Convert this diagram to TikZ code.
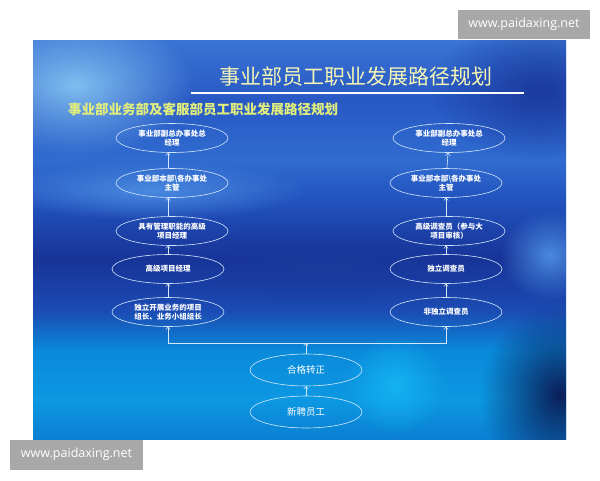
\documentclass[tikz,border=0pt]{standalone}
\usepackage{fontspec}
\setmainfont{Noto Sans CJK SC}
\newfontfamily\wmfont{Open Sans}
\usetikzlibrary{shapes.geometric,fadings,arrows.meta}

\definecolor{linecol}{HTML}{D4E8FA}
\definecolor{titlecol}{HTML}{F6F6B4}
\definecolor{subcol}{HTML}{E2EE7C}
\definecolor{wmgray}{HTML}{A8A8A8}
\definecolor{spotlight}{HTML}{80BEF0}
\definecolor{spotstreak}{HTML}{4A8AE0}
\definecolor{spotdark}{HTML}{0A1E58}
\definecolor{spotnavy}{HTML}{1A3A9E}
\definecolor{spotcyan}{HTML}{14B2F2}
\definecolor{bgA}{HTML}{0B7FD2}
\definecolor{bgB}{HTML}{0C98E2}
\definecolor{bgC}{HTML}{0A8ADA}
\definecolor{bgD}{HTML}{1B4CB4}
\definecolor{bgE}{HTML}{173398}
\definecolor{bgF}{HTML}{2252BE}
\definecolor{bgG}{HTML}{306CD0}
\definecolor{bgH}{HTML}{2858C4}
\definecolor{bgI}{HTML}{3A74D4}

% slide background, bottom to top
\pgfdeclareverticalshading{slidebg}{100bp}{%
  color(0bp)=(bgA); color(25bp)=(bgA);
  color(30bp)=(bgB); color(36bp)=(bgC);
  color(41bp)=(bgD); color(47.5bp)=(bgE);
  color(55bp)=(bgF); color(60bp)=(bgG);
  color(67.5bp)=(bgH); color(75bp)=(bgI);
  color(100bp)=(bgI)}
\tikzfading[name=softspot, inner color=transparent!0, outer color=transparent!100]

\begin{document}
\begin{tikzpicture}[x=1pt,y=-1pt,
  stage/.style={ellipse,draw=linecol,line width=0.6pt,minimum width=112pt,
    minimum height=29pt,inner sep=0pt,text=white,align=center,
    font=\bfseries\fontsize{7.5}{9.5}\selectfont},
  bigstage/.style={stage,minimum height=32pt,font=\fontsize{9.5}{11}\selectfont},
  link/.style={draw=linecol,line width=0.6pt,-{To[length=3pt,width=5pt]}},
  wmark/.style={fill=wmgray,text=white,inner sep=0pt,minimum width=132pt,
    minimum height=29pt,font=\wmfont\fontsize{12.5}{14}\selectfont}]
\useasboundingbox (0,0) rectangle (600,480);
\fill[white] (0,0) rectangle (600,480);
% Slide background
\begin{scope}
\clip (33,40) rectangle (566,439);
\shade[shading=slidebg] (33,40) rectangle (566,439);
\fill[spotlight,path fading=softspot] (75,85) ellipse (120 and 70);
\fill[spotnavy,path fading=softspot] (540,90) ellipse (110 and 70);
\fill[spotstreak,path fading=softspot] (150,190) ellipse (160 and 30);
\fill[spotnavy,path fading=softspot] (320,265) ellipse (150 and 40);
\fill[spotstreak,path fading=softspot] (550,255) ellipse (50 and 45);
\fill[spotdark,path fading=softspot] (560,395) ellipse (80 and 90);
\fill[spotcyan,path fading=softspot] (395,385) ellipse (50 and 50);
\end{scope}
% Title
\node[text=titlecol,font=\fontsize{21}{24}\selectfont,inner sep=0pt] (title) at (356,77) {事业部员工职业发展路径规划};
\draw[white,line width=1.8pt] (191,93) -- (524,93);
\node[text=subcol,font=\bfseries\fontsize{13.5}{15}\selectfont,anchor=west,inner sep=0pt] (subtitle) at (68,109) {事业部业务部及客服部员工职业发展路径规划};
% Left path
\node[stage] (L1) at (172,138) {事业部副总办事处总\\经理};
\node[stage] (L2) at (172,183) {事业部本部\textbackslash 各办事处\\主管};
\node[stage] (L3) at (172,231) {具有管理职能的高级\\项目经理};
\node[stage] (L4) at (168,269) {高级项目经理};
\node[stage] (L5) at (168,312) {独立开展业务的项目\\组长、业务小组组长};
% Right path
\node[stage] (R1) at (449,138) {事业部副总办事处总\\经理};
\node[stage] (R2) at (446,183) {事业部本部\textbackslash 各办事处\\主管};
\node[stage] (R3) at (449,231) {高级调查员（参与大\\项目审核）};
\node[stage] (R4) at (446,269) {独立调查员};
\node[stage] (R5) at (446,312) {非独立调查员};
% Entry
\node[bigstage] (C1) at (306,370) {合格转正};
\node[bigstage] (C2) at (306,412) {新聘员工};
\coordinate (split) at (306,343);
% Arrows
\draw[link] (C2) -- (C1);
\draw[link] (C1) -- (split);
\draw[link] (split) -| (L5.south);
\draw[link] (split) -| (R5.south);
\draw[link] (L5) -- (L4);
\draw[link] (L4.north) -- (L4.north |- L3.south);
\draw[link] (L4.north |- L3.north) -- (L4.north |- L2.south);
\draw[link] (L4.north |- L2.north) -- (L4.north |- L1.south);
\draw[link] (R5) -- (R4);
\draw[link] (R4.north) -- (R4.north |- R3.south);
\draw[link] (R4.north |- R3.north) -- (R4.north |- R2.south);
\draw[link] (R2) -- (R1);
% Watermarks
\node[wmark] (wmtop) at (524,24.5) {www.paidaxing.net};
\node[wmark,minimum width=133pt,minimum height=30pt] (wmbottom) at (76.5,454.5) {www.paidaxing.net};
\end{tikzpicture}
\end{document}
